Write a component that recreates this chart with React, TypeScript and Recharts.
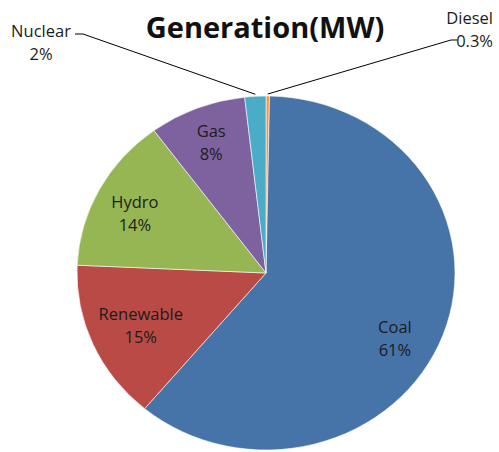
import React from 'react';
import { PieChart, Pie, Cell } from 'recharts';

const categories = ['Diesel', 'Coal', 'Renewable', 'Hydro', 'Gas', 'Nuclear'];
const values = [0.3, 60.8, 14.6, 14.2, 8.3, 1.8];
const colors = ['#F79646', '#4673A8', '#BA4A45', '#96B654', '#7E62A0', '#4AACC6'];
const title = 'Generation(MW)';

const data = categories.map((name, i) => ({ name, value: values[i] }));

const RAD = Math.PI / 180;
const X_STRETCH = 189 / 177;
const FONT = '"Open Sans", "DejaVu Sans", sans-serif';

const EllipseSector = (p: any) => {
  const { cx, cy, outerRadius, startAngle, endAngle, fill } = p;
  const rx = outerRadius * X_STRETCH;
  const ry = outerRadius;
  const pt = (a: number) => [cx + rx * Math.cos(-a * RAD), cy + ry * Math.sin(-a * RAD)];
  const [x1, y1] = pt(startAngle);
  const [x2, y2] = pt(endAngle);
  const large = Math.abs(startAngle - endAngle) > 180 ? 1 : 0;
  const sweep = startAngle > endAngle ? 1 : 0;
  return (
    <path
      d={`M${cx},${cy} L${x1},${y1} A${rx},${ry} 0 ${large} ${sweep} ${x2},${y2} Z`}
      fill={fill}
      stroke="#ffffff"
      strokeWidth={0.6}
    />
  );
};

const fmt = (p: number) => {
  const v = p * 100;
  return v < 1 ? `${v.toFixed(1)}%` : `${Math.round(v)}%`;
};

const insideTweak: Record<string, { r: number; da: number }> = {
  Coal: { r: 0.775, da: -7.8 },
  Renewable: { r: 0.724, da: 0 },
  Hydro: { r: 0.772, da: 2 },
  Gas: { r: 0.794, da: 0 },
};

const renderLabel = (props: any) => {
  const { cx, cy, outerRadius, midAngle, percent, name } = props;
  const rx = outerRadius * X_STRETCH;
  const ry = outerRadius;
  const txt = fmt(percent);
  const common = { fontFamily: FONT, fontSize: 16.5, fill: '#1c1c1c' } as any;
  if (name === 'Nuclear' || name === 'Diesel') {
    const ex = cx + rx * Math.cos(-midAngle * RAD);
    const ey = cy + ry * Math.sin(-midAngle * RAD) - 2;
    if (name === 'Nuclear') {
      return (
        <g>
          <polyline points={`${ex},${ey} 83,34 75,34`} fill="none" stroke="#000" strokeWidth={1} />
          <text x={41} y={30} textAnchor="middle" dominantBaseline="central" {...common}>{name}</text>
          <text x={41} y={53} textAnchor="middle" dominantBaseline="central" {...common}>{txt}</text>
        </g>
      );
    }
    return (
      <g>
        <polyline points={`${ex},${ey} 451,40 457,40`} fill="none" stroke="#000" strokeWidth={1} />
        <text x={493} y={17} textAnchor="end" dominantBaseline="central" {...common}>{name}</text>
        <text x={493} y={40} textAnchor="end" dominantBaseline="central" {...common}>{txt}</text>
      </g>
    );
  }
  const tw = insideTweak[name] || { r: 0.77, da: 0 };
  const a = midAngle + tw.da;
  const x = cx + rx * tw.r * Math.cos(-a * RAD);
  const y = cy + ry * tw.r * Math.sin(-a * RAD);
  return (
    <g>
      <text x={x} y={y - 11.5} textAnchor="middle" dominantBaseline="central" {...common}>{name}</text>
      <text x={x} y={y + 11.5} textAnchor="middle" dominantBaseline="central" {...common}>{txt}</text>
    </g>
  );
};

export default function App() {
  return (
    <div style={{ position: 'absolute', left: 0, top: 0, width: 499, height: 452, background: '#fff' }}>
      <div
        style={{
          position: 'absolute',
          left: 0,
          width: 530,
          top: 8,
          textAlign: 'center',
          fontFamily: FONT,
          fontWeight: 700,
          fontSize: 29,
          lineHeight: '38px',
          color: '#111',
        }}
      >
        {title}
      </div>
      <PieChart width={499} height={452} style={{ position: 'absolute', left: 0, top: 0 }}>
        <Pie
          data={data}
          dataKey="value"
          nameKey="name"
          cx={261}
          cy={268}
          outerRadius={177}
          startAngle={90}
          endAngle={-270}
          isAnimationActive={false}
          shape={EllipseSector}
          label={renderLabel}
          labelLine={false}
        >
          {data.map((d, i) => (
            <Cell key={d.name} fill={colors[i]} />
          ))}
        </Pie>
      </PieChart>
    </div>
  );
}
